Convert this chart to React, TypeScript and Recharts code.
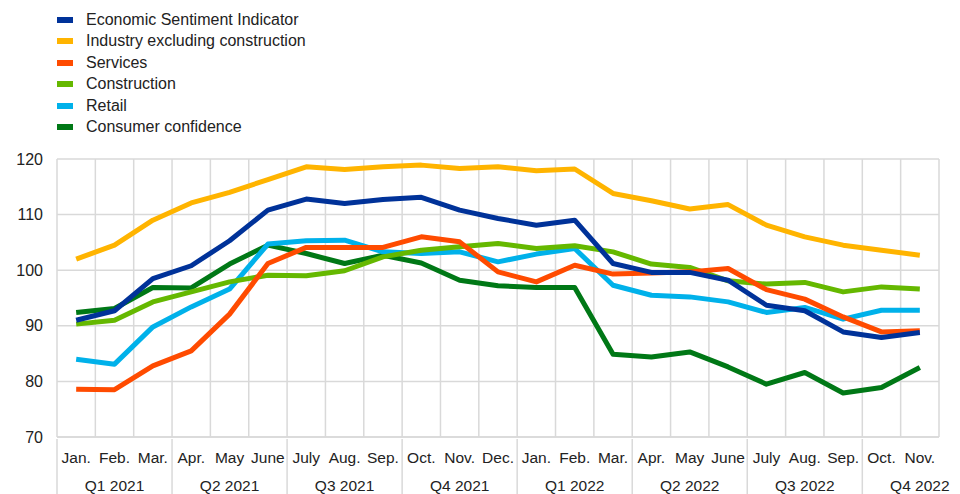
import { LineChart, Line, XAxis, YAxis, CartesianGrid } from 'recharts'

const months = ['Jan.', 'Feb.', 'Mar.', 'Apr.', 'May', 'June', 'July', 'Aug.', 'Sep.', 'Oct.', 'Nov.', 'Dec.',
  'Jan.', 'Feb.', 'Mar.', 'Apr.', 'May', 'June', 'July', 'Aug.', 'Sep.', 'Oct.', 'Nov.']
const quarters = ['Q1 2021', 'Q2 2021', 'Q3 2021', 'Q4 2021', 'Q1 2022', 'Q2 2022', 'Q3 2022', 'Q4 2022']

const esi = [91.0, 92.7, 98.5, 100.8, 105.3, 110.8, 112.8, 112.0, 112.7, 113.1, 110.8, 109.3,
  108.1, 109.0, 101.2, 99.6, 99.6, 98.2, 93.7, 92.7, 88.9, 87.9, 88.8]
const industry = [102.0, 104.5, 109.0, 112.1, 114.0, 116.3, 118.6, 118.1, 118.6, 118.9, 118.3, 118.6,
  117.9, 118.2, 113.8, 112.5, 111.0, 111.8, 108.1, 106.0, 104.5, 103.6, 102.7]
const services = [78.6, 78.5, 82.8, 85.5, 92.1, 101.2, 104.1, 104.1, 104.1, 106.0, 105.1, 99.7,
  97.9, 100.9, 99.3, 99.5, 99.7, 100.3, 96.5, 94.8, 91.6, 88.9, 89.1]
const construction = [90.3, 91.0, 94.3, 96.1, 97.9, 99.1, 99.0, 99.9, 102.4, 103.6, 104.2, 104.8,
  103.9, 104.4, 103.3, 101.1, 100.5, 98.1, 97.5, 97.8, 96.1, 97.0, 96.6]
const retail = [84.0, 83.1, 89.8, 93.4, 96.6, 104.7, 105.3, 105.4, 103.3, 103.0, 103.3, 101.5,
  102.9, 103.9, 97.3, 95.5, 95.2, 94.3, 92.4, 93.3, 91.2, 92.8, 92.8]
const consumer = [92.4, 93.1, 96.9, 96.8, 101.1, 104.5, 103.0, 101.2, 102.7, 101.3, 98.2, 97.2,
  96.9, 96.9, 84.9, 84.4, 85.3, 82.6, 79.5, 81.6, 77.9, 78.9, 82.5]

const series = [
  { key: 'esi', name: 'Economic Sentiment Indicator', color: '#003299', values: esi },
  { key: 'industry', name: 'Industry excluding construction', color: '#FFB400', values: industry },
  { key: 'services', name: 'Services', color: '#FF4B00', values: services },
  { key: 'construction', name: 'Construction', color: '#65B800', values: construction },
  { key: 'retail', name: 'Retail', color: '#00B1EA', values: retail },
  { key: 'consumer', name: 'Consumer confidence', color: '#007816', values: consumer },
]

const data = months.map((m, i) => {
  const row: any = { month: m }
  series.forEach((s) => { row[s.key] = s.values[i] })
  return row
})

const W = 960
const H = 494
const MARGIN = { top: 159, right: 21, bottom: 0, left: 0 }
const Y_WIDTH = 57
const X_HEIGHT = 57
const FONT = 'Arial, "Liberation Sans", sans-serif'
const GRID = '#d9d9d9'
const band = (W - Y_WIDTH - MARGIN.right) / months.length

const MonthTick = ({ x, y, index, payload }: any) => {
  return (
    <g>
      <text x={x} y={y + 18} textAnchor="middle" dominantBaseline="central"
        fontSize={15.5} fill="#222" fontFamily={FONT}>{payload.value}</text>
      {index % 3 === 1 && (
        <text x={x} y={y + 46} textAnchor="middle" dominantBaseline="central"
          fontSize={15.5} fill="#222" fontFamily={FONT}>{quarters[(index - 1) / 3]}</text>
      )}
      {index % 3 === 0 && (
        <line x1={x - band / 2} x2={x - band / 2} y1={y} y2={H} stroke={GRID} strokeWidth={1.5} />
      )}
    </g>
  )
}

export default function App() {
  return (
    <div style={{ position: 'absolute', left: 0, top: 0, width: W, height: H, background: '#fff' }}>
      <LineChart width={W} height={H} data={data} margin={MARGIN}>
        <CartesianGrid
          stroke={GRID}
          strokeWidth={1.5}
          verticalCoordinatesGenerator={({ offset }: any) =>
            months.map((_, i) => offset.left + (offset.width * i) / months.length).concat(offset.left + offset.width)
          }
        />
        <XAxis dataKey="month" interval={0} tickSize={0} tick={<MonthTick />} height={X_HEIGHT}
          padding={{ left: band / 2, right: band / 2 }}
          axisLine={{ stroke: GRID, strokeWidth: 1.5 }} />
        <YAxis domain={[70, 120]} ticks={[70, 80, 90, 100, 110, 120]} width={Y_WIDTH}
          axisLine={false} tickLine={false} tickSize={0} tickMargin={14}
          tick={{ fontSize: 16, fill: '#222', fontFamily: FONT }} />
        {[...series].reverse().map((s) => (
          <Line key={s.key} dataKey={s.key} name={s.name} stroke={s.color} strokeWidth={5}
            dot={false} isAnimationActive={false} strokeLinejoin="round" />
        ))}
      </LineChart>
      <div style={{ position: 'absolute', left: 57, top: 9, fontFamily: FONT, fontSize: 16, color: '#222' }}>
        {series.map((s) => (
          <div key={s.key} style={{ display: 'flex', alignItems: 'center', height: 21.5 }}>
            <div style={{ width: 16, height: 6, background: s.color, marginRight: 13 }} />
            <span>{s.name}</span>
          </div>
        ))}
      </div>
    </div>
  )
}
